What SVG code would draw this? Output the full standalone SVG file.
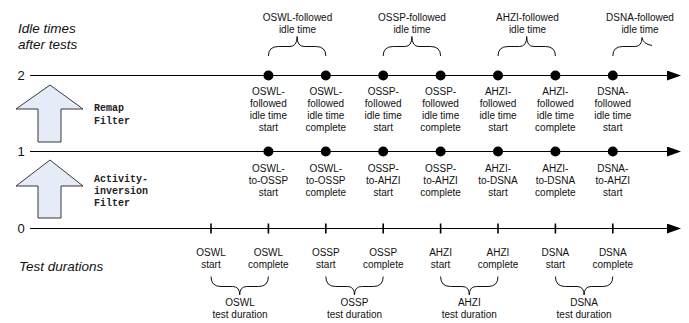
<svg xmlns="http://www.w3.org/2000/svg" width="689" height="323" viewBox="0 0 689 323">
<defs>
<style>
.t{font-family:"Liberation Sans",Arial,sans-serif;font-size:10px;fill:#111;text-anchor:middle}
.it{font-family:"Liberation Sans",Arial,sans-serif;font-size:13.5px;font-style:italic;fill:#111}
.num{font-family:"Liberation Sans",Arial,sans-serif;font-size:13px;fill:#111}
.mono{font-family:"Liberation Mono","Courier New",monospace;font-size:10px;font-weight:bold;fill:#222}
.axis{stroke:#000;stroke-width:1;fill:none}
.brace{stroke:#111;stroke-width:1;fill:none}
.tick{stroke:#000;stroke-width:1.6}
.dot{fill:#000}
.blk{fill:#E6ECF7;stroke:#222;stroke-width:0.9}
</style>
<marker id="ah" viewBox="0 0 14 10" refX="0" refY="5" markerWidth="14" markerHeight="10" markerUnits="userSpaceOnUse" orient="auto">
<path d="M0,0 L14,5 L0,10 Z" fill="#000"/>
</marker>
</defs>
<rect width="689" height="323" fill="#fff"/>

<g id="side-labels">
<text class="it" x="18" y="33">Idle times</text>
<text class="it" x="18" y="49">after tests</text>
<text class="it" x="19" y="271">Test durations</text>
<text class="num" x="17.5" y="79.5">2</text>
<text class="num" x="17.5" y="156">1</text>
<text class="num" x="17.5" y="232.5">0</text>
</g>

<g id="connectors">
<line class="axis" x1="30" y1="75.5" x2="667" y2="75.5" marker-end="url(#ah)"/>
<line class="axis" x1="30" y1="151.5" x2="667" y2="151.5" marker-end="url(#ah)"/>
<line class="axis" x1="30" y1="228.5" x2="667" y2="228.5" marker-end="url(#ah)"/>
</g>

<g id="remap-filter">
<polygon class="blk" points="50,85 83,109 61,109 61,142 38,142 38,109 16,109"/>
<text class="mono" x="94" y="111">Remap</text>
<text class="mono" x="94" y="124">Filter</text>
</g>
<g id="activity-inversion-filter">
<polygon class="blk" points="50,160 83,186 61,186 61,218 38,218 38,186 16,186"/>
<text class="mono" x="94" y="182">Activity-</text>
<text class="mono" x="94" y="194">inversion</text>
<text class="mono" x="94" y="206">Filter</text>
</g>

<g id="idle-braces">
<path class="brace" d="M268.4,56 Q268.4,46.5 278.4,46.5 L290,46.5 Q297.1,46.5 297.1,36.5 Q297.1,46.5 304.2,46.5 L315.8,46.5 Q325.8,46.5 325.8,56"/>
<text class="t" x="297.5" y="20.5">OSWL-followed</text>
<text class="t" x="297.5" y="32.5">idle time</text>
<path class="brace" d="M383.2,56 Q383.2,46.5 393.2,46.5 L404.8,46.5 Q411.9,46.5 411.9,36.5 Q411.9,46.5 419,46.5 L430.6,46.5 Q440.6,46.5 440.6,56"/>
<text class="t" x="412" y="20.5">OSSP-followed</text>
<text class="t" x="412" y="32.5">idle time</text>
<path class="brace" d="M498,56 Q498,46.5 508,46.5 L519.6,46.5 Q526.7,46.5 526.7,36.5 Q526.7,46.5 533.8,46.5 L545.4,46.5 Q555.4,46.5 555.4,56"/>
<text class="t" x="527.5" y="20.5">AHZI-followed</text>
<text class="t" x="527.5" y="32.5">idle time</text>
<path class="brace" d="M612.8,56 Q612.8,46.5 622.8,46.5 L634.9,46.5 Q642,46.5 642,37.5 Q643,44 652,45.5"/>
<text class="t" x="640" y="20.5">DSNA-followed</text>
<text class="t" x="640" y="32.5">idle time</text>
</g>

<g id="line2-points">
<circle class="dot" cx="268.4" cy="75.5" r="5"/>
<circle class="dot" cx="325.8" cy="75.5" r="5"/>
<circle class="dot" cx="383.2" cy="75.5" r="5"/>
<circle class="dot" cx="440.6" cy="75.5" r="5"/>
<circle class="dot" cx="498" cy="75.5" r="5"/>
<circle class="dot" cx="555.4" cy="75.5" r="5"/>
<circle class="dot" cx="612.8" cy="75.5" r="5"/>
<text class="t" x="268.4" y="94.5">OSWL-</text><text class="t" x="268.4" y="106.5">followed</text><text class="t" x="268.4" y="118.5">idle time</text><text class="t" x="268.4" y="130.5">start</text>
<text class="t" x="325.8" y="94.5">OSWL-</text><text class="t" x="325.8" y="106.5">followed</text><text class="t" x="325.8" y="118.5">idle time</text><text class="t" x="325.8" y="130.5">complete</text>
<text class="t" x="383.2" y="94.5">OSSP-</text><text class="t" x="383.2" y="106.5">followed</text><text class="t" x="383.2" y="118.5">idle time</text><text class="t" x="383.2" y="130.5">start</text>
<text class="t" x="440.6" y="94.5">OSSP-</text><text class="t" x="440.6" y="106.5">followed</text><text class="t" x="440.6" y="118.5">idle time</text><text class="t" x="440.6" y="130.5">complete</text>
<text class="t" x="498" y="94.5">AHZI-</text><text class="t" x="498" y="106.5">followed</text><text class="t" x="498" y="118.5">idle time</text><text class="t" x="498" y="130.5">start</text>
<text class="t" x="555.4" y="94.5">AHZI-</text><text class="t" x="555.4" y="106.5">followed</text><text class="t" x="555.4" y="118.5">idle time</text><text class="t" x="555.4" y="130.5">complete</text>
<text class="t" x="612.8" y="94.5">DSNA-</text><text class="t" x="612.8" y="106.5">followed</text><text class="t" x="612.8" y="118.5">idle time</text><text class="t" x="612.8" y="130.5">start</text>
</g>

<g id="line1-points">
<circle class="dot" cx="268.4" cy="151.5" r="5"/>
<circle class="dot" cx="325.8" cy="151.5" r="5"/>
<circle class="dot" cx="383.2" cy="151.5" r="5"/>
<circle class="dot" cx="440.6" cy="151.5" r="5"/>
<circle class="dot" cx="498" cy="151.5" r="5"/>
<circle class="dot" cx="555.4" cy="151.5" r="5"/>
<circle class="dot" cx="612.8" cy="151.5" r="5"/>
<text class="t" x="268.4" y="172">OSWL-</text><text class="t" x="268.4" y="184">to-OSSP</text><text class="t" x="268.4" y="196">start</text>
<text class="t" x="325.8" y="172">OSWL-</text><text class="t" x="325.8" y="184">to-OSSP</text><text class="t" x="325.8" y="196">complete</text>
<text class="t" x="383.2" y="172">OSSP-</text><text class="t" x="383.2" y="184">to-AHZI</text><text class="t" x="383.2" y="196">start</text>
<text class="t" x="440.6" y="172">OSSP-</text><text class="t" x="440.6" y="184">to-AHZI</text><text class="t" x="440.6" y="196">complete</text>
<text class="t" x="498" y="172">AHZI-</text><text class="t" x="498" y="184">to-DSNA</text><text class="t" x="498" y="196">start</text>
<text class="t" x="555.4" y="172">AHZI-</text><text class="t" x="555.4" y="184">to-DSNA</text><text class="t" x="555.4" y="196">complete</text>
<text class="t" x="612.8" y="172">DSNA-</text><text class="t" x="612.8" y="184">to-AHZI</text><text class="t" x="612.8" y="196">start</text>
</g>

<g id="line0-ticks">
<line class="tick" x1="211" y1="223.5" x2="211" y2="233.5"/>
<line class="tick" x1="268.4" y1="223.5" x2="268.4" y2="233.5"/>
<line class="tick" x1="325.8" y1="223.5" x2="325.8" y2="233.5"/>
<line class="tick" x1="383.2" y1="223.5" x2="383.2" y2="233.5"/>
<line class="tick" x1="440.6" y1="223.5" x2="440.6" y2="233.5"/>
<line class="tick" x1="498" y1="223.5" x2="498" y2="233.5"/>
<line class="tick" x1="555.4" y1="223.5" x2="555.4" y2="233.5"/>
<line class="tick" x1="612.8" y1="223.5" x2="612.8" y2="233.5"/>
<text class="t" x="211" y="255.5">OSWL</text><text class="t" x="211" y="267.5">start</text>
<text class="t" x="268.4" y="255.5">OSWL</text><text class="t" x="268.4" y="267.5">complete</text>
<text class="t" x="325.8" y="255.5">OSSP</text><text class="t" x="325.8" y="267.5">start</text>
<text class="t" x="383.2" y="255.5">OSSP</text><text class="t" x="383.2" y="267.5">complete</text>
<text class="t" x="440.6" y="255.5">AHZI</text><text class="t" x="440.6" y="267.5">start</text>
<text class="t" x="498" y="255.5">AHZI</text><text class="t" x="498" y="267.5">complete</text>
<text class="t" x="555.4" y="255.5">DSNA</text><text class="t" x="555.4" y="267.5">start</text>
<text class="t" x="612.8" y="255.5">DSNA</text><text class="t" x="612.8" y="267.5">complete</text>
</g>

<g id="duration-braces">
<path class="brace" d="M211,276.5 Q211,286.5 221,286.5 L232.6,286.5 Q239.7,286.5 239.7,295 Q239.7,286.5 246.8,286.5 L258.4,286.5 Q268.4,286.5 268.4,276.5"/>
<text class="t" x="240" y="305.5">OSWL</text><text class="t" x="240" y="317.5">test duration</text>
<path class="brace" d="M325.8,276.5 Q325.8,286.5 335.8,286.5 L347.4,286.5 Q354.5,286.5 354.5,295 Q354.5,286.5 361.6,286.5 L373.2,286.5 Q383.2,286.5 383.2,276.5"/>
<text class="t" x="354.5" y="305.5">OSSP</text><text class="t" x="354.5" y="317.5">test duration</text>
<path class="brace" d="M440.6,276.5 Q440.6,286.5 450.6,286.5 L462.2,286.5 Q469.3,286.5 469.3,295 Q469.3,286.5 476.4,286.5 L488,286.5 Q498,286.5 498,276.5"/>
<text class="t" x="469.3" y="305.5">AHZI</text><text class="t" x="469.3" y="317.5">test duration</text>
<path class="brace" d="M555.4,276.5 Q555.4,286.5 565.4,286.5 L577,286.5 Q584.1,286.5 584.1,295 Q584.1,286.5 591.2,286.5 L602.8,286.5 Q612.8,286.5 612.8,276.5"/>
<text class="t" x="584.1" y="305.5">DSNA</text><text class="t" x="584.1" y="317.5">test duration</text>
</g>
</svg>
